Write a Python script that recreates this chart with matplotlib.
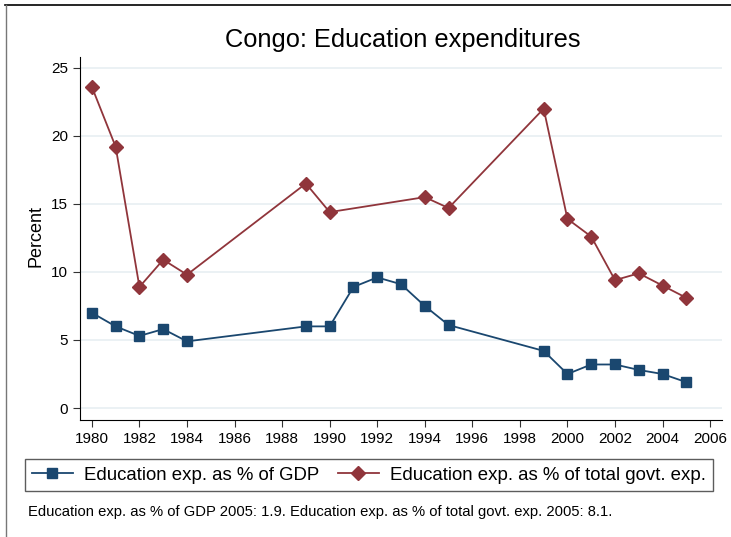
import matplotlib.pyplot as plt
from matplotlib.lines import Line2D

# data
years_gdp = [1980, 1981, 1982, 1983, 1984, 1989, 1990, 1991, 1992, 1993,
             1994, 1995, 1999, 2000, 2001, 2002, 2003, 2004, 2005]
pct_gdp = [7.0, 6.0, 5.3, 5.8, 4.9, 6.0, 6.0, 8.9, 9.6, 9.1,
           7.5, 6.1, 4.2, 2.5, 3.2, 3.2, 2.8, 2.5, 1.9]

years_gov = [1980, 1981, 1982, 1983, 1984, 1989, 1990, 1994, 1995,
             1999, 2000, 2001, 2002, 2003, 2004, 2005]
pct_gov = [23.6, 19.2, 8.9, 10.9, 9.8, 16.5, 14.4, 15.5, 14.7,
           22.0, 13.9, 12.6, 9.4, 9.9, 9.0, 8.1]

x_ticks = list(range(1980, 2007, 2))
y_ticks = [0, 5, 10, 15, 20, 25]

BLUE = '#1a476f'
RED = '#90353b'

plt.rcParams['font.family'] = ['Liberation Sans', 'DejaVu Sans']

fig = plt.figure(figsize=(7.31, 5.37), dpi=100)
W, H = 731, 537
ax = fig.add_axes([80 / W, 1 - 420 / H, (722 - 80) / W, (420 - 57) / H])

ax.plot(years_gdp, pct_gdp, color=BLUE, lw=1.3, marker='s', ms=7,
        label='Education exp. as % of GDP')
ax.plot(years_gov, pct_gov, color=RED, lw=1.3, marker='D', ms=7,
        label='Education exp. as % of total govt. exp.')

ax.set_xlim(1979.5, 2006.5)
ax.set_ylim(-0.88, 25.8)
ax.set_xticks(x_ticks)
ax.set_yticks(y_ticks)
ax.tick_params(labelsize=11, length=5, color='#333333')
ax.grid(axis='y', color='#e8eff2', lw=1.2)
ax.set_axisbelow(True)
for s in ['top', 'right']:
    ax.spines[s].set_visible(False)

# y axis title placed by hand, as in the reference
fig.text(36 / W, 1 - 236 / H, 'Percent', rotation=90,
         ha='center', va='center', fontsize=13)

fig.text(403 / W, 1 - 40 / H, 'Congo: Education expenditures',
         ha='center', va='center', fontsize=18.3)

handles = [Line2D([], [], color=BLUE, lw=1.3, marker='s', ms=7),
           Line2D([], [], color=RED, lw=1.3, marker='D', ms=7)]
leg = fig.legend(handles, ['Education exp. as % of GDP',
                           'Education exp. as % of total govt. exp.'],
                 loc='center', bbox_to_anchor=(369 / W, 1 - 475 / H),
                 ncol=2, fontsize=13.4, frameon=True, fancybox=False,
                 edgecolor='#333333', handlelength=2.2, columnspacing=1.0,
                 borderpad=0.4, handletextpad=0.6)
leg.get_frame().set_linewidth(1.0)

fig.text(28 / W, 1 - 512 / H,
         'Education exp. as % of GDP 2005: 1.9. Education exp. as % of total govt. exp. 2005: 8.1.',
         ha='left', va='center', fontsize=10.6)

# outer frame edges visible in the reference
fig.add_artist(Line2D([5 / W, 1], [1 - 5 / H] * 2, color='black', lw=1.2))
fig.add_artist(Line2D([6 / W] * 2, [0, 1 - 5 / H], color='#777777', lw=1.0))

fig.savefig('out.png', dpi=100)
